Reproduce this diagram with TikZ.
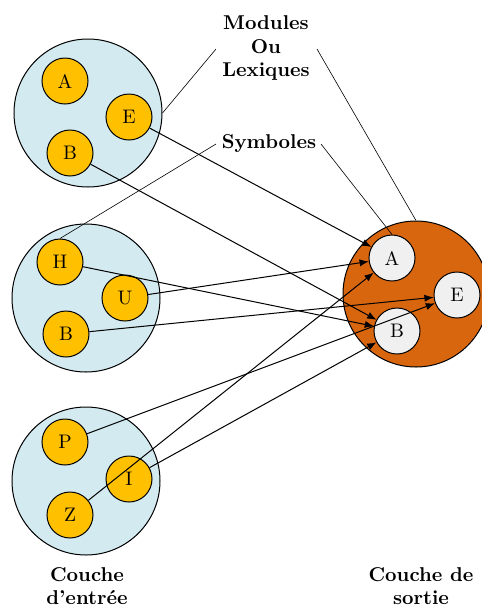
\documentclass[tikz,border=0pt]{standalone}
\usetikzlibrary{arrows.meta}
\definecolor{lblue}{HTML}{D3EAF0}
\definecolor{gold}{HTML}{FFC000}
\definecolor{outorange}{HTML}{D8660E}
\definecolor{lgray}{HTML}{F0F0F0}
\begin{document}
\begin{tikzpicture}[x=0.5pt,y=-0.5pt,
  layer/.style={circle,draw,line width=0.5pt,fill=lblue,minimum size=74pt,inner sep=0pt},
  sym/.style={circle,draw,line width=0.5pt,fill=gold,minimum size=23pt,inner sep=0pt,font=\fontsize{9.8}{11}\selectfont},
  outsym/.style={sym,fill=lgray},
  link/.style={line width=0.5pt,-{Latex[length=4.6pt,width=3.6pt]}},
  callout/.style={line width=0.3pt},
  lbl/.style={font=\bfseries\fontsize{10}{11.75}\selectfont,align=center}]
\useasboundingbox (0,0) rectangle (482,606);
\clip (0,0) rectangle (482,606);
% input layers
\node[layer] (C1) at (88,113) {};
\node[layer] (C2) at (86,298) {};
\node[layer] (C3) at (86,481) {};
\node[layer,fill=outorange,minimum size=73pt] (Out) at (416,294) {};
% symbols
\node[sym] (A1) at (65,81) {A};
\node[sym] (E1) at (129,117) {E};
\node[sym] (B1) at (70,153) {B};
\node[sym] (H2) at (60,262) {H};
\node[sym] (U2) at (125,298) {U};
\node[sym] (B2) at (66,334) {B};
\node[sym] (P3) at (65,442) {P};
\node[sym] (I3) at (129,479) {I};
\node[sym] (Z3) at (70,515) {Z};
\node[outsym] (Ao) at (392,258) {A};
\node[outsym] (Eo) at (457,295) {E};
\node[outsym] (Bo) at (397,331) {B};
% labels
\node[lbl] (mod) at (266,48) {Modules\\Ou\\Lexiques};
\node[lbl] (symb) at (269,144) {Symboles};
\node[lbl] (cin) at (87,586) {Couche\\d’entrée};
\node[lbl] (cout) at (421,586) {Couche de\\sortie};
% callout anchors
\coordinate (m1) at (216,49);
\coordinate (m2) at (317,49);
\coordinate (s1) at (216,144);
\coordinate (s2) at (321,144);
\draw[callout] (m1) -- (C1.east);
\draw[callout] (m2) -- (Out.north);
\draw[callout] (s1) -- (H2.north);
\draw[callout] (s2) -- (Ao.north);
% connections
\draw[link] (E1) -- (Ao);
\draw[link] (B1) -- (Bo);
\draw[link] (H2) -- (Bo);
\draw[link] (U2) -- (Ao);
\draw[link] (B2) -- (Eo);
\draw[link] (P3) -- (Eo);
\draw[link] (Z3) -- (Ao);
\draw[link] (I3) -- (Bo);
\end{tikzpicture}
\end{document}
